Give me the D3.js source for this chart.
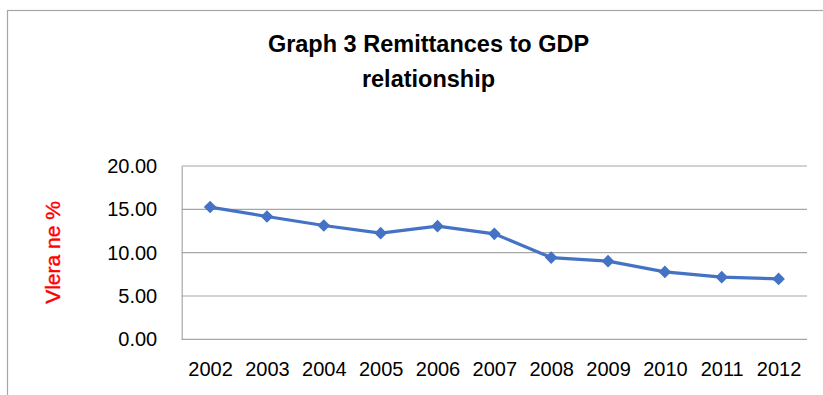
<!DOCTYPE html>
<html>
<head>
<meta charset="utf-8">
<script src="https://cdn.jsdelivr.net/npm/d3@7/dist/d3.min.js"></script>
<style>
  html, body { margin: 0; padding: 0; background: #fff; }
  svg { display: block; }
</style>
</head>
<body>
<svg id="chart" width="823" height="395"></svg>
<script>
const years = ["2002","2003","2004","2005","2006","2007","2008","2009","2010","2011","2012"];
const values = [15.26, 14.17, 13.13, 12.25, 13.06, 12.17, 9.43, 9.02, 7.78, 7.17, 6.97];
const yTicks = [0, 5, 10, 15, 20];
const titleLines = ["Graph 3 Remittances to GDP", "relationship"];
const yLabel = "Vlera ne %";

const svg = d3.select("#chart");
const W = 823, H = 395;
const plot = { left: 181.7, right: 807, top: 166, bottom: 339.3 };

// chart border (extends past right/bottom edges)
svg.append("rect")
  .attr("x", 7.5).attr("y", 10.5)
  .attr("width", W + 20).attr("height", H + 20)
  .attr("fill", "#fff")
  .attr("stroke", "#a6a6a6")
  .attr("stroke-width", 1.2);

const x = d3.scalePoint().domain(years).range([plot.left, plot.right]).padding(0.5);
const y = d3.scaleLinear().domain([0, 20]).range([plot.bottom, plot.top]);

// gridlines
svg.append("g").selectAll("line")
  .data(yTicks)
  .join("line")
  .attr("x1", plot.left).attr("x2", plot.right)
  .attr("y1", d => y(d)).attr("y2", d => y(d))
  .attr("stroke", "#a6a6a6")
  .attr("stroke-width", 1.2);

// y axis
const yAxis = svg.append("g")
  .attr("transform", `translate(${plot.left},0)`)
  .call(d3.axisLeft(y).tickValues(yTicks).tickFormat(d3.format(".2f")).tickSize(0).tickSizeOuter(0).tickPadding(24.5));
yAxis.select(".domain").attr("stroke", "#a6a6a6").attr("stroke-width", 1.2);
yAxis.selectAll("text")
  .attr("font-family", "'Liberation Sans', Arial, sans-serif")
  .attr("font-size", 20)
  .attr("fill", "#000");

// x axis
const xAxis = svg.append("g")
  .attr("transform", `translate(0,${plot.bottom})`)
  .call(d3.axisBottom(x).tickSize(0).tickSizeOuter(0).tickPadding(23));
xAxis.select(".domain").remove();
xAxis.selectAll("text")
  .attr("font-family", "'Liberation Sans', Arial, sans-serif")
  .attr("font-size", 20)
  .attr("fill", "#000");

// line
const line = d3.line().x((d, i) => x(years[i])).y(d => y(d));
svg.append("path")
  .datum(values)
  .attr("d", line)
  .attr("fill", "none")
  .attr("stroke", "#4472C4")
  .attr("stroke-width", 3.2)
  .attr("stroke-linejoin", "round");

// diamond markers
const r = 6.3;
svg.append("g").selectAll("path")
  .data(values)
  .join("path")
  .attr("transform", (d, i) => `translate(${x(years[i])},${y(d)})`)
  .attr("d", `M0,${-r}L${r},0L0,${r}L${-r},0Z`)
  .attr("fill", "#4472C4");

// title
const title = svg.append("text")
  .attr("text-anchor", "middle")
  .attr("font-family", "'Liberation Sans', Arial, sans-serif")
  .attr("font-weight", "bold")
  .attr("font-size", 23.5)
  .attr("fill", "#000");
title.selectAll("tspan")
  .data(titleLines)
  .join("tspan")
  .attr("x", 428.5)
  .attr("y", (d, i) => 51.7 + i * 35)
  .text(d => d);

// y label
svg.append("text")
  .attr("transform", "translate(60,252.5) rotate(-90)")
  .attr("text-anchor", "middle")
  .attr("font-family", "'Liberation Sans', Arial, sans-serif")
  .attr("font-size", 21)
  .attr("stroke", "#ff0000")
  .attr("stroke-width", 0.4)
  .attr("fill", "#ff0000")
  .text(yLabel);
</script>
</body>
</html>
